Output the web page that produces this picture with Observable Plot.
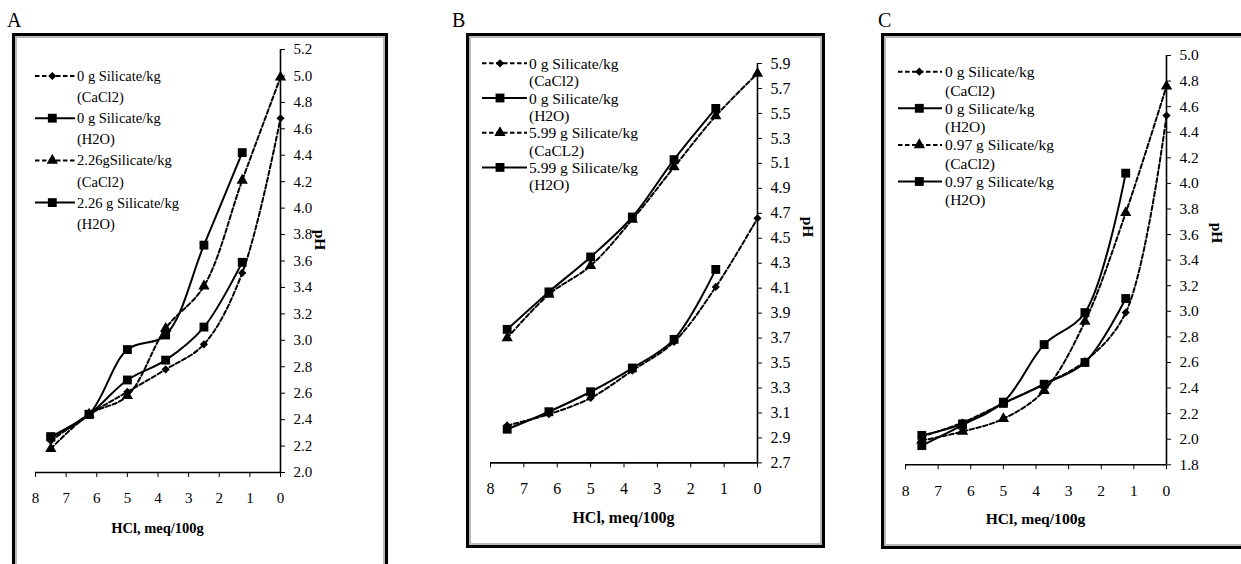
<!DOCTYPE html>
<html><head><meta charset="utf-8">
<script src="https://cdn.jsdelivr.net/npm/d3@7"></script>
<script src="https://cdn.jsdelivr.net/npm/@observablehq/plot@0.6"></script>
<style>
html,body{margin:0;padding:0;background:#fff;}
body{width:1241px;height:564px;overflow:hidden;position:relative;font-family:"Liberation Serif","Times New Roman",Times,"DejaVu Serif",serif;}
.frame{position:absolute;box-sizing:border-box;border:3px solid #000;box-shadow:inset 0 0 0 2px #b8b8b8;}
.plotbox{position:absolute;}
.plotbox svg{max-width:none;overflow:visible;}
#overlay{position:absolute;left:0;top:0;}
svg text{font-family:"Liberation Serif","Times New Roman",Times,"DejaVu Serif",serif !important;}
</style></head><body>
<script>
// ---- data ----
const xValues = [7.5, 6.25, 5, 3.75, 2.5, 1.25, 0];
const xTicks = [0, 1, 2, 3, 4, 5, 6, 7, 8];
const xTitle = "HCl, meq/100g";
const yTitle = "pH";

const yTicksA = [2.0, 2.2, 2.4, 2.6, 2.8, 3.0, 3.2, 3.4, 3.6, 3.8, 4.0, 4.2, 4.4, 4.6, 4.8, 5.0, 5.2];
const namesA = [["0 g Silicate/kg", "(CaCl2)"], ["0 g Silicate/kg", "(H2O)"], ["2.26gSilicate/kg", "(CaCl2)"], ["2.26 g Silicate/kg", "(H2O)"]];
const A_0_CaCl2   = [2.24, 2.44, 2.61, 2.78, 2.97, 3.51, 4.68];
const A_0_H2O     = [2.27, 2.44, 2.70, 2.85, 3.10, 3.59];
const A_226_CaCl2 = [2.18, 2.44, 2.58, 3.09, 3.41, 4.21, 4.99];
const A_226_H2O   = [2.27, 2.44, 2.93, 3.04, 3.72, 4.42];

const yTicksB = [2.7, 2.9, 3.1, 3.3, 3.5, 3.7, 3.9, 4.1, 4.3, 4.5, 4.7, 4.9, 5.1, 5.3, 5.5, 5.7, 5.9];
const namesB = [["0 g Silicate/kg", "(CaCl2)"], ["0 g Silicate/kg", "(H2O)"], ["5.99 g Silicate/kg", "(CaCL2)"], ["5.99 g Silicate/kg", "(H2O)"]];
const B_0_CaCl2   = [3.00, 3.09, 3.22, 3.44, 3.67, 4.11, 4.66];
const B_0_H2O     = [2.97, 3.11, 3.27, 3.46, 3.69, 4.25];
const B_599_CaCl2 = [3.70, 4.05, 4.28, 4.65, 5.07, 5.48, 5.82];
const B_599_H2O   = [3.77, 4.07, 4.35, 4.67, 5.13, 5.54];

const yTicksC = [1.8, 2.0, 2.2, 2.4, 2.6, 2.8, 3.0, 3.2, 3.4, 3.6, 3.8, 4.0, 4.2, 4.4, 4.6, 4.8, 5.0];
const namesC = [["0 g Silicate/kg", "(CaCl2)"], ["0 g Silicate/kg", "(H2O)"], ["0.97 g Silicate/kg", "(CaCl2)"], ["0.97 g Silicate/kg", "(H2O)"]];
const C_0_CaCl2   = [2.02, 2.13, 2.28, 2.43, 2.61, 2.99, 4.53];
const C_0_H2O     = [1.95, 2.11, 2.28, 2.43, 2.60, 3.10];
const C_097_CaCl2 = [1.99, 2.06, 2.16, 2.38, 2.92, 3.77, 4.76];
const C_097_H2O   = [2.03, 2.12, 2.29, 2.74, 2.99, 4.08];

// ---- styles (per series position) ----
const seriesStyle = [
  {dash: "4.5,2.5", symbol: "diamond2", r: 3.7},
  {dash: null, symbol: "square", r: 5.0},
  {dash: "4.5,2.5", symbol: "triangle", r: 4.2},
  {dash: null, symbol: "square", r: 5.0}
];

const panels = [
  {label: "A", labelPos: [7, 27], frame: [12, 33, 388, 640],
   plot: {l: 35, r: 280, t: 49.3, b: 472.3}, yDomain: [2.0, 5.2], yTicks: yTicksA,
   names: namesA, series: [A_0_CaCl2, A_0_H2O, A_226_CaCl2, A_226_H2O],
   tickFs: 15, titleFs: 14.5, xTitlePos: [157.5, 528], yTitlePos: [320, 240],
   legend: {x0: 35, x1: 75, xm: 52.3, xt: 77, y0: 76, lh: 21.1, fs: 14.5}},
  {label: "B", labelPos: [452, 27], frame: [466, 33, 825, 548],
   plot: {l: 490, r: 757, t: 63.3, b: 462.7}, yDomain: [2.7, 5.9], yTicks: yTicksB,
   names: namesB, series: [B_0_CaCl2, B_0_H2O, B_599_CaCl2, B_599_H2O],
   tickFs: 16, titleFs: 16, xTitlePos: [623.5, 517], yTitlePos: [808, 227],
   legend: {x0: 482, x1: 527, xm: 500, xt: 529, y0: 63.3, lh: 17.35, fs: 15.5}},
  {label: "C", labelPos: [878, 27], frame: [881, 33, 1260, 549],
   plot: {l: 905, r: 1166, t: 55, b: 464.3}, yDomain: [1.8, 5.0], yTicks: yTicksC,
   names: namesC, series: [C_0_CaCl2, C_0_H2O, C_097_CaCl2, C_097_H2O],
   tickFs: 15.5, titleFs: 15.6, xTitlePos: [1035.5, 518], yTitlePos: [1217, 233],
   legend: {x0: 898, x1: 942, xm: 919.3, xt: 945, y0: 71.7, lh: 18.3, fs: 15.5}}
];

const body = document.body;
const font = '"Liberation Serif","Times New Roman",Times,"DejaVu Serif",serif';

panels.forEach(p => {
  const fr = document.createElement("div");
  fr.className = "frame";
  fr.style.left = p.frame[0] + "px"; fr.style.top = p.frame[1] + "px";
  fr.style.width = (p.frame[2] - p.frame[0]) + "px"; fr.style.height = (p.frame[3] - p.frame[1]) + "px";
  body.appendChild(fr);
});

panels.forEach(p => {
  const mL = 30, mR = 70, mT = 20, mB = 45;
  const w = (p.plot.r - p.plot.l) + mL + mR;
  const h = (p.plot.b - p.plot.t) + mT + mB;
  const marks = [];
  p.series.forEach((vals, i) => {
    const rows = vals.map((v, j) => ({x: xValues[j], y: v}));
    const st = seriesStyle[i];
    marks.push(Plot.line(rows, {x: "x", y: "y", curve: "catmull-rom", stroke: "#000", strokeWidth: 2,
      strokeDasharray: st.dash || undefined}));
  });
  p.series.forEach((vals, i) => {
    const rows = vals.map((v, j) => ({x: xValues[j], y: v}));
    const st = seriesStyle[i];
    marks.push(Plot.dot(rows, {x: "x", y: "y", symbol: st.symbol, r: st.r, fill: "#000"}));
  });
  marks.push(Plot.ruleX([0], {stroke: "#000", strokeWidth: 1.6}));
  marks.push(Plot.ruleY([p.yDomain[0]], {stroke: "#000", strokeWidth: 1.6}));
  marks.push(Plot.axisY({anchor: "right", ticks: p.yTicks, tickSize: 4, tickPadding: 9,
    tickFormat: d => d.toFixed(1), fontSize: p.tickFs, label: null}));
  marks.push(Plot.axisX({anchor: "bottom", ticks: xTicks, tickSize: 5, tickPadding: 15,
    tickFormat: d => String(d), fontSize: p.tickFs, label: null}));
  const svg = Plot.plot({
    width: w, height: h, marginLeft: mL, marginRight: mR, marginTop: mT, marginBottom: mB,
    x: {type: "linear", domain: [8, 0]},
    y: {type: "linear", domain: p.yDomain},
    style: {background: "transparent", fontFamily: font, color: "#000", overflow: "visible"},
    marks
  });
  const box = document.createElement("div");
  box.className = "plotbox";
  box.style.left = (p.plot.l - mL) + "px";
  box.style.top = (p.plot.t - mT) + "px";
  box.style.width = w + "px"; box.style.height = h + "px";
  box.appendChild(svg);
  body.appendChild(box);
});

// overlay: panel letters, legends, axis titles
const ov = d3.select(body).append("svg").attr("id", "overlay")
  .attr("width", 1241).attr("height", 564).attr("font-family", font);

panels.forEach(p => {
  ov.append("text").attr("x", p.labelPos[0]).attr("y", p.labelPos[1])
    .attr("font-size", 20).text(p.label);
  ov.append("text").attr("x", p.xTitlePos[0]).attr("y", p.xTitlePos[1])
    .attr("text-anchor", "middle").attr("dominant-baseline", "central")
    .attr("font-weight", "bold").attr("font-size", p.titleFs).text(xTitle);
  ov.append("text").attr("transform", `translate(${p.yTitlePos[0]},${p.yTitlePos[1]}) rotate(90)`)
    .attr("text-anchor", "middle").attr("dominant-baseline", "central")
    .attr("font-weight", "bold").attr("font-size", 15.5).text(yTitle);

  const L = p.legend;
  p.names.forEach((nm, i) => {
    const st = seriesStyle[i];
    const yy = L.y0 + 2 * i * L.lh;
    ov.append("line").attr("x1", L.x0).attr("x2", L.x1).attr("y1", yy).attr("y2", yy)
      .attr("stroke", "#000").attr("stroke-width", 2)
      .attr("stroke-dasharray", st.dash || null);
    const symType = {diamond2: d3.symbolDiamond2, square: d3.symbolSquare, triangle: d3.symbolTriangle}[st.symbol];
    ov.append("path").attr("transform", `translate(${L.xm},${yy})`)
      .attr("d", d3.symbol(symType, Math.PI * st.r * st.r)()).attr("fill", "#000");
    nm.forEach((line, k) => {
      ov.append("text").attr("x", L.xt).attr("y", yy + k * L.lh)
        .attr("dominant-baseline", "central").attr("font-size", L.fs).text(line);
    });
  });
});
</script>
</body></html>
